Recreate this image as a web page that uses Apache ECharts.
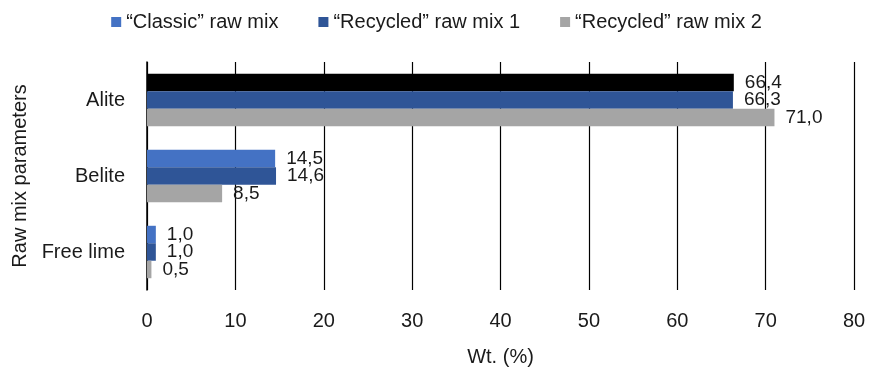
<!DOCTYPE html>
<html><head><meta charset="utf-8">
<script src="https://cdn.jsdelivr.net/npm/echarts@6/dist/echarts.min.js"></script>
<style>html,body{margin:0;padding:0;background:#fff}#c{width:873px;height:374px}</style>
</head><body><div id="c"></div>
<script>
const categories = ["Alite", "Belite", "Free lime"];
const seriesNames = ["\u201cClassic\u201d raw mix", "\u201cRecycled\u201d raw mix 1", "\u201cRecycled\u201d raw mix 2"];
const classicValues = [66.4, 14.5, 1.0];
const recycled1Values = [66.3, 14.6, 1.0];
const recycled2Values = [71.0, 8.5, 0.5];
const xTicks = [0, 10, 20, 30, 40, 50, 60, 70, 80];

const FONT = "'Liberation Sans', Arial, sans-serif";
const TXT = '#1a1a1a';
const colors = ["#4472C4", "#2F5597", "#A5A5A5"];
const fmt = p => p.value.toFixed(1).replace('.', ',');
const lbl = { show: true, position: 'right', formatter: fmt, fontFamily: FONT, fontSize: 19, color: TXT, distance: 11 };

const chart = echarts.init(document.getElementById('c'));
chart.setOption({
  animation: false,
  color: colors,
  textStyle: { fontFamily: FONT },
  legend: {
    top: 7, left: 'center', icon: 'rect', itemWidth: 10, itemHeight: 10, itemGap: 40,
    textStyle: { fontFamily: FONT, fontSize: 20, color: TXT },
    data: seriesNames
  },
  grid: { left: 147, right: 19, top: 62, bottom: 84, containLabel: false },
  xAxis: {
    type: 'value', min: xTicks[0], max: xTicks[xTicks.length - 1], interval: 10,
    name: 'Wt. (%)', nameLocation: 'middle', nameGap: 57,
    nameTextStyle: { fontFamily: FONT, fontSize: 20, color: TXT },
    axisLine: { show: false }, axisTick: { show: false },
    axisLabel: { fontFamily: FONT, fontSize: 20, color: TXT, margin: 21 },
    splitLine: { show: true, lineStyle: { color: '#000', width: 1.2 } }
  },
  yAxis: {
    type: 'category', data: categories, inverse: true,
    name: 'Raw mix parameters', nameLocation: 'middle', nameGap: 116, nameRotate: 90,
    nameTextStyle: { fontFamily: FONT, fontSize: 20, color: TXT },
    axisLine: { show: true, lineStyle: { color: '#000', width: 1.5 } },
    axisTick: { show: false },
    axisLabel: { fontFamily: FONT, fontSize: 20, color: TXT, margin: 22 }
  },
  series: [
    { name: seriesNames[0], type: 'bar', barCategoryGap: '31%', barGap: '0%',
      data: classicValues.map((v, i) => i === 0 ? { value: v, itemStyle: { color: '#000' } } : v), label: lbl },
    { name: seriesNames[1], type: 'bar', barGap: '0%', data: recycled1Values, label: lbl },
    { name: seriesNames[2], type: 'bar', barGap: '0%', data: recycled2Values, label: lbl }
  ]
});
</script></body></html>
